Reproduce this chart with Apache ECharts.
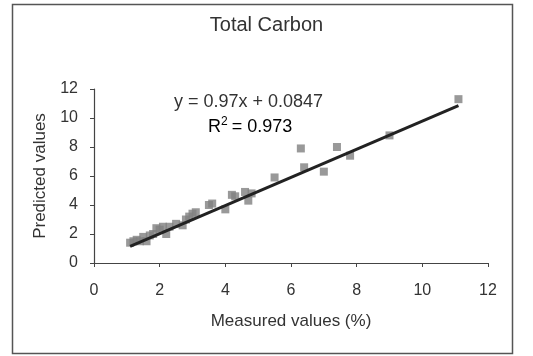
<!DOCTYPE html>
<html>
<head>
<meta charset="utf-8">
<script src="https://cdn.jsdelivr.net/npm/echarts@6/dist/echarts.min.js"></script>
<style>
  html, body { margin: 0; padding: 0; background: #fff; }
  #chart { width: 533px; height: 356px; }
</style>
</head>
<body>
<div id="chart"></div>
<script>
// Measured vs predicted total carbon (%)
const measured  = [1.1, 1.2, 1.3, 1.4, 1.5, 1.6, 1.7, 1.8, 1.9, 2.0, 2.1, 2.2, 2.3, 2.5, 2.7, 2.8, 2.9, 3.0, 3.1, 3.5, 3.6, 4.0, 4.2, 4.3, 4.6, 4.7, 4.8, 5.5, 6.3, 6.4, 7.0, 7.4, 7.8, 9.0, 11.1];
const predicted = [1.4, 1.5, 1.6, 1.5, 1.8, 1.5, 1.9, 2.0, 2.4, 2.3, 2.5, 2.0, 2.5, 2.7, 2.6, 3.0, 3.2, 3.4, 3.5, 4.0, 4.1, 3.7, 4.7, 4.6, 4.9, 4.3, 4.8, 5.9, 7.9, 6.6, 6.3, 8.0, 7.4, 8.8, 11.3];

// Linear fit reported on the chart
const slope = 0.97;
const intercept = 0.0847;
const rSquared = 0.973;

const xTicks = [0, 2, 4, 6, 8, 10, 12];
const yTicks = [0, 2, 4, 6, 8, 10, 12];

const points = measured.map((x, i) => [x, predicted[i]]);
const xMin = Math.min(...measured);
const xMax = Math.max(...measured);
const fitLine = [[xMin, slope * xMin + intercept], [xMax, slope * xMax + intercept]];

const font = 'Liberation Sans, Arial, sans-serif';
const ink = '#333';
const chart = echarts.init(document.getElementById('chart'), null, { renderer: 'canvas' });

chart.setOption({
  backgroundColor: '#ffffff',
  animation: false,
  title: {
    text: 'Total Carbon',
    left: 'center',
    top: 10,
    textStyle: { fontFamily: font, fontSize: 20, fontWeight: 'normal', color: ink }
  },
  grid: { left: 94, right: 45, top: 89, bottom: 93 },
  xAxis: {
    type: 'value',
    min: xTicks[0], max: xTicks[xTicks.length - 1], interval: 2,
    name: 'Measured values (%)',
    nameLocation: 'middle',
    nameGap: 50,
    nameTextStyle: { fontFamily: font, fontSize: 17, color: ink },
    axisLine: { lineStyle: { color: '#444', width: 1.2 } },
    axisTick: { show: true, inside: false, length: 4, lineStyle: { color: '#444' } },
    axisLabel: { fontFamily: font, fontSize: 16, color: ink, margin: 20 },
    splitLine: { show: false }
  },
  yAxis: {
    type: 'value',
    min: yTicks[0], max: yTicks[yTicks.length - 1], interval: 2,
    name: 'Predicted values',
    nameLocation: 'middle',
    nameGap: 39,
    nameTextStyle: { fontFamily: font, fontSize: 17, color: ink },
    axisLine: { show: true, lineStyle: { color: '#444', width: 1.2 } },
    axisTick: { show: true, inside: false, length: 4, lineStyle: { color: '#444' } },
    axisLabel: { fontFamily: font, fontSize: 16, color: ink, margin: 16 },
    splitLine: { show: false }
  },
  series: [
    {
      type: 'scatter',
      data: points,
      symbol: 'rect',
      symbolSize: 8,
      itemStyle: { color: '#808080' },
      z: 2
    },
    {
      type: 'line',
      data: fitLine,
      symbol: 'none',
      lineStyle: { color: '#222', width: 3 },
      z: 3
    }
  ],
  graphic: [
    {
      type: 'rect',
      shape: { x: 12.5, y: 4.5, width: 500, height: 349 },
      style: { fill: 'none', stroke: '#555', lineWidth: 1.5 },
      silent: true
    },
    {
      type: 'text',
      left: 174, top: 93,
      style: { text: 'y = 0.97x + ' + intercept, font: '18px ' + font, fill: ink }
    },
    {
      type: 'text',
      left: 208, top: 116,
      style: {
        text: '{t|R}{s|2}{t|= ' + rSquared + '}',
        rich: {
          t: { fontFamily: font, fontSize: 18, color: ink, verticalAlign: 'bottom' },
          s: { fontFamily: font, fontSize: 12, color: ink, verticalAlign: 'top', padding: [0, 4, 8, 0] }
        }
      }
    }
  ]
});
</script>
</body>
</html>
